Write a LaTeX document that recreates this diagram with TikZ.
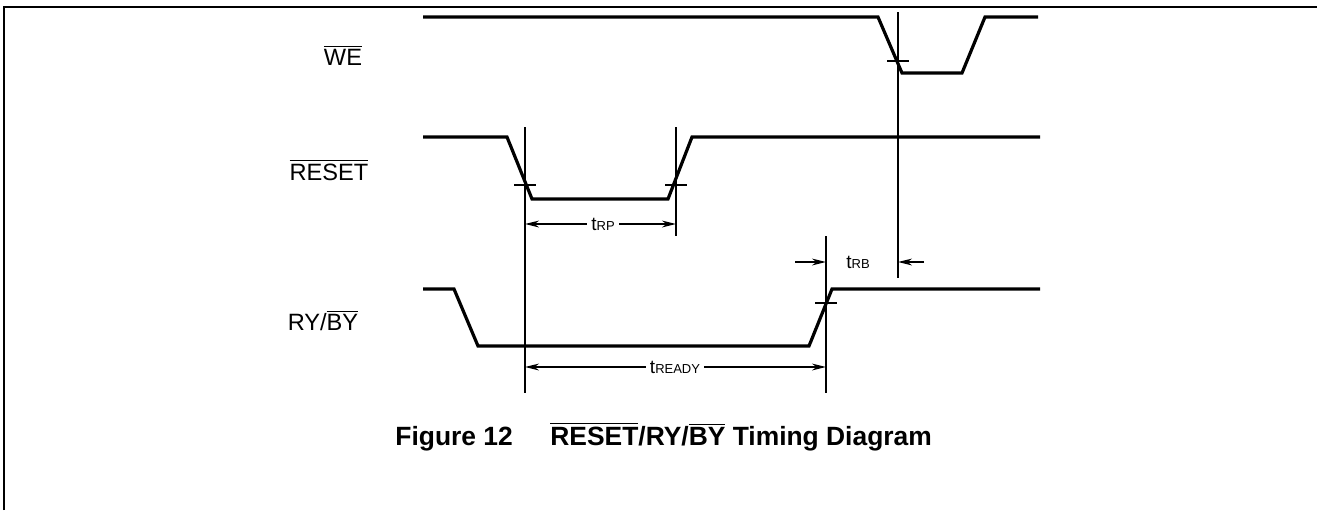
\documentclass[tikz,border=0pt]{standalone}
\usepackage{fontspec}
\setmainfont{Liberation Sans}
\usepackage{tikz}
\usetikzlibrary{arrows.meta}

\newcommand{\ovl}[1]{$\overline{\hbox{#1}}$}
\newcommand{\tsub}[1]{t{\fontsize{6.5}{7}\selectfont #1}}

\begin{document}
\begin{tikzpicture}[x=0.5pt,y=-0.5pt,
        signal/.style={line width=1.6pt, line join=miter},
        marker/.style={line width=1pt},
        dim/.style={line width=0.9pt, -{Stealth[length=7pt,width=3.4pt]}},
        lbl/.style={font=\fontsize{11.8}{13}\selectfont, inner sep=0pt, anchor=base},
        tlbl/.style={font=\fontsize{9.5}{11}\selectfont, inner sep=2pt},
        caption/.style={font=\fontsize{13.2}{15}\selectfont\bfseries, inner sep=0pt, anchor=base west}]
        \useasboundingbox (0,0) rectangle (1317,510);

        % Frame
        \draw[line width=1pt] (4,510) -- (4,7) -- (1317,7);

        % Signal names
        \node[lbl] (we) at (343,65) {\ovl{WE}};
        \node[lbl] (reset) at (329,180) {\ovl{RESET}};
        \node[lbl] (ryby) at (323,330) {RY/\ovl{BY}};

        % Draw the waveforms
        \draw[signal] (423,17) -- (878,17) -- (902,73) -- (962,73) -- (985,17) -- (1038,17);
        \draw[signal] (423,137) -- (507,137) -- (532,199) -- (668,199) -- (692,137) -- (1040,137);
        \draw[signal] (423,289) -- (454,289) -- (478,346) -- (809,346) -- (832,289) -- (1040,289);

        % Reference lines
        \coordinate (rpA) at (525,127);
        \coordinate (rpB) at (676,127);
        \coordinate (rdy) at (826,236);
        \coordinate (weA) at (898,12);
        \draw[marker] (rpA) -- (525,393);
        \draw[marker] (rpB) -- (676,236);
        \draw[marker] (rdy) -- (826,393);
        \draw[marker] (weA) -- (898,278);

        % Crossing ticks
        \foreach \x/\y in {525/185, 676/185, 826/303, 898/61} {
            \draw[marker] (\x-11,\y) -- (\x+11,\y);
        }

        % Timing labels
        \node[tlbl] (trp) at (603,224) {\tsub{RP}};
        \draw[dim] (trp.west) -- (525,224);
        \draw[dim] (trp.east) -- (676,224);

        \node[tlbl] (tready) at (675,367) {\tsub{READY}};
        \draw[dim] (tready.west) -- (525,367);
        \draw[dim] (tready.east) -- (826,367);

        \node[tlbl] (trb) at (858,262) {\tsub{RB}};
        \coordinate (rbL) at (795,262);
        \coordinate (rbR) at (924,262);
        \draw[dim] (rbL) -- (826,262);
        \draw[dim] (rbR) -- (898,262);

        % Caption
        \node[caption] (fig) at (395,445) {Figure 12};
        \node[caption] (title) at (550,445) {\ovl{RESET}/RY/\ovl{BY} Timing Diagram};
    \end{tikzpicture}
\end{document}
